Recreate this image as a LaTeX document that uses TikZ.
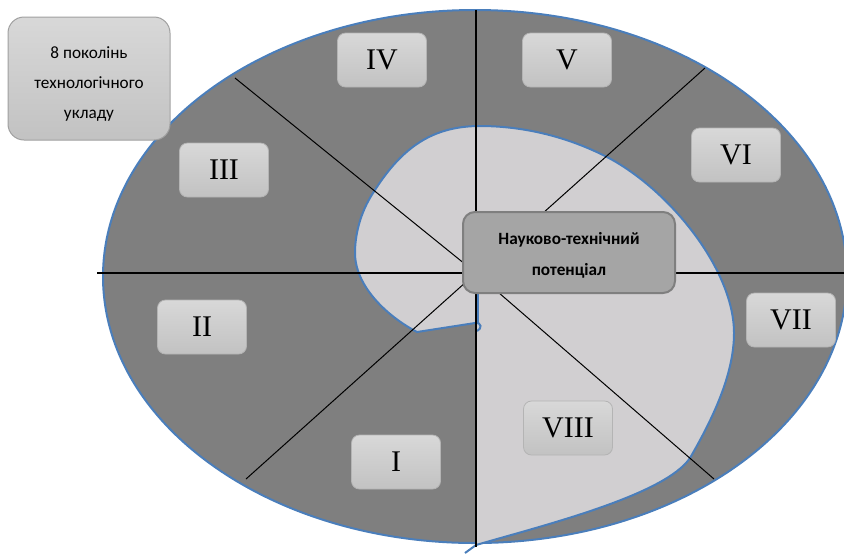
\documentclass[tikz,border=0pt]{standalone}
\usepackage{fontspec}
\setmainfont{Liberation Serif}
\newfontfamily\calibri{Carlito}

\definecolor{sectorgray}{HTML}{7F7F7F}
\definecolor{corefill}{HTML}{D1CFD1}
\definecolor{rimblue}{HTML}{4A7EBB}
\definecolor{boxtop}{HTML}{D8D8D8}
\definecolor{boxbot}{HTML}{C2C2C2}
\definecolor{boxline}{HTML}{B4B4B4}
\definecolor{legendline}{HTML}{A0A0A0}
\definecolor{corebox}{HTML}{A5A5A5}
\definecolor{coreline}{HTML}{7F7F7F}

\begin{document}
\begin{tikzpicture}[x=0.5pt, y=-0.5pt,
        % styles
        gen/.style = {
                rectangle, rounded corners=4pt,
                minimum width=44.5pt, minimum height=27pt,
                text centered, draw=boxline, line width=0.4pt,
                top color=boxtop, bottom color=boxbot,
                font=\fontsize{15}{15}\selectfont
            },
        legend/.style = {
                rectangle, rounded corners=8pt,
                minimum width=81pt, minimum height=61.5pt,
                align=center, draw=legendline, line width=0.5pt,
                top color=boxtop, bottom color=boxbot,
                font=\calibri\fontsize{8.6}{15}\selectfont
            },
        core/.style = {
                rectangle, rounded corners=6pt,
                minimum width=106pt, minimum height=40.5pt,
                align=center, draw=coreline, line width=1pt, fill=corebox,
                font=\calibri\bfseries\fontsize{8.6}{15.5}\selectfont
            },
        axis/.style = {line width=1pt, black},
        ray/.style = {line width=0.5pt, black},
        rim/.style = {line width=1pt, draw=rimblue}
    ]
    \useasboundingbox (0,0) rectangle (844,553);

    % outer ellipse
    \draw[rim, fill=sectorgray] (475,276.5) ellipse [x radius=372, y radius=266.5];

    % spiral of the potential
    \def\spiral{(476,545) .. controls (545,525) and (665,495) .. (690,458)
        .. controls (712,420) and (734,375) .. (734,333)
        .. controls (734,270) and (670,190) .. (607,157)
        .. controls (560,133) and (515,126) .. (480,126)
        .. controls (430,126) and (400,150) .. (373,193)
        .. controls (360,213) and (355,235) .. (355,253)
        .. controls (355,285) and (385,315) .. (417,332)}
    \fill[corefill] \spiral -- (475,323) -- cycle;
    \draw[rim] (465,553) -- \spiral -- (475,323)
        .. controls (482,322) and (482,329) .. (477,331);
    \draw[rim] (477.5,293) -- (477.5,323);

    % axes and rays
    \coordinate (c) at (476,273);
    \draw[axis] (97,273) -- (844,273);
    \draw[axis] (476,10) -- (476,547);
    \draw[ray] (c) -- (235,78);
    \draw[ray] (c) -- (705,68);
    \draw[ray] (c) -- (246,479);
    \draw[ray] (c) -- (714,479);

    % generations
    \node (g1) [gen] at (396,462) {I};
    \node (g2) [gen] at (202,327) {II};
    \node (g3) [gen] at (224,170) {III};
    \node (g4) [gen] at (382,60) {IV};
    \node (g5) [gen] at (567,60) {V};
    \node (g6) [gen] at (736,155) {VI};
    \node (g7) [gen] at (791,320) {VII};
    \node (g8) [gen] at (568,428) {VIII};

    \node (potential) [core] at (569,252.5) {\rule{0pt}{9pt}Науково-технічний\\потенціал};
    \node (caption) [legend] at (89,78.5) {\rule{0pt}{11pt}8 поколінь\\технологічного\\укладу};
\end{tikzpicture}
\end{document}
